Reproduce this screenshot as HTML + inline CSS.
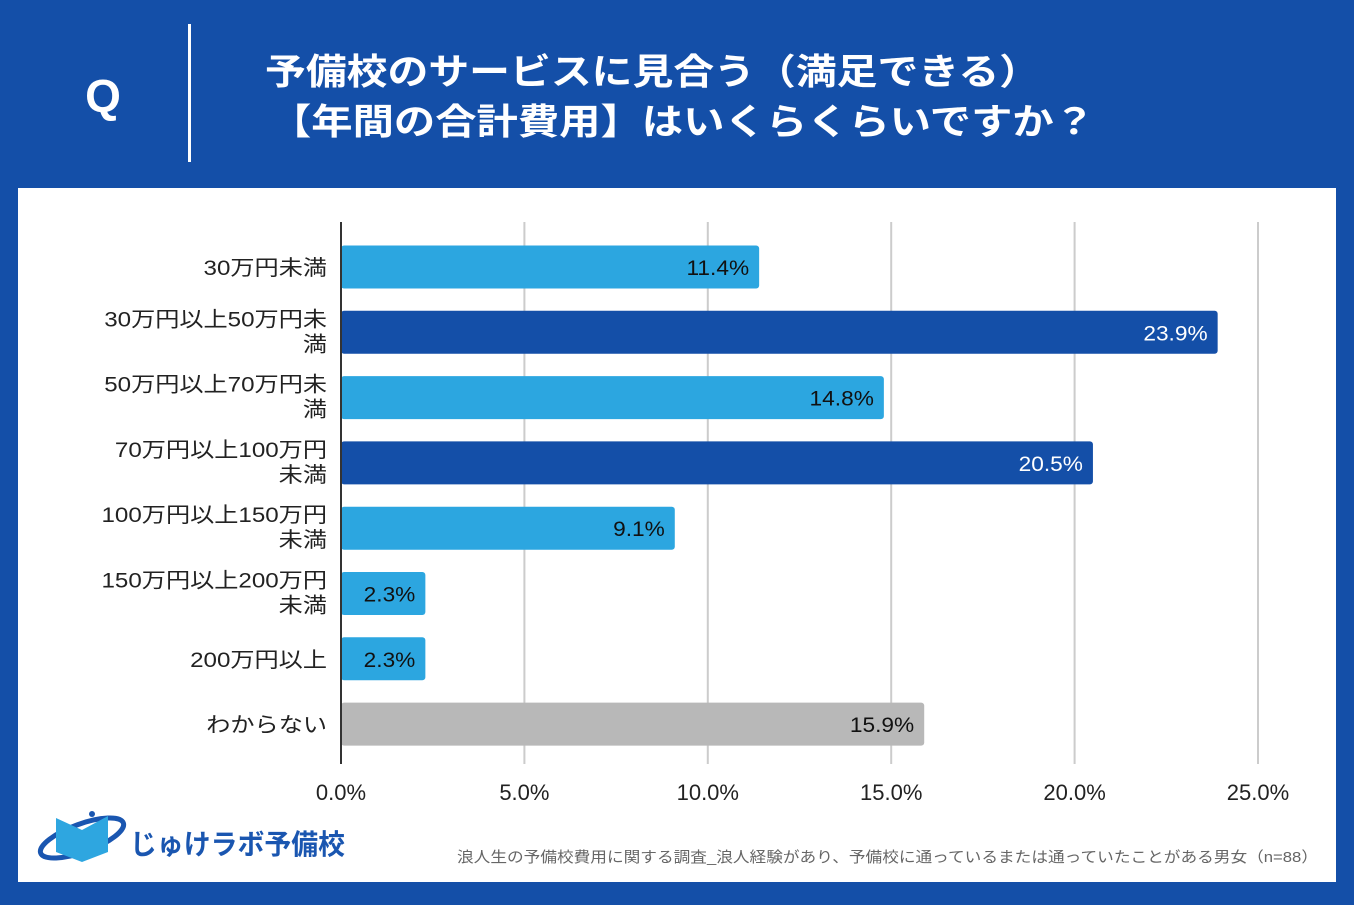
<!DOCTYPE html>
<html><head><meta charset="utf-8"><style>
body{margin:0;width:1354px;height:905px;background:#144fa8;overflow:hidden;font-family:"Liberation Sans","Noto Sans CJK JP",sans-serif;}
</style></head><body>
<svg width="1354" height="905" xmlns="http://www.w3.org/2000/svg" style="position:absolute;left:0;top:0" font-family="Liberation Sans, Noto Sans CJK JP, sans-serif">
<rect width="1354" height="905" fill="#144fa8"/>
<text x="103" y="112" fill="#fff" font-size="46" font-weight="bold" text-anchor="middle">Q</text>
<rect x="188" y="24" width="3" height="138" fill="#fff"/>
<text x="265" y="84" fill="#fff" font-size="36" font-weight="bold" textLength="775" lengthAdjust="spacingAndGlyphs">予備校のサービスに見合う（満足できる）</text>
<text x="270" y="134" fill="#fff" font-size="36" font-weight="bold" textLength="825" lengthAdjust="spacingAndGlyphs">【年間の合計費用】はいくらくらいですか？</text>
<rect x="18" y="188" width="1318" height="694" fill="#fff"/>
<g id="chart"></g>
<g>
<ellipse cx="82" cy="838" rx="44" ry="14" fill="none" stroke="#1a56b0" stroke-width="5" transform="rotate(-20 82 838)"/>
<path d="M56 818 L82 830 L108 816 L108 852 L82 862 L56 852Z" fill="#2ea6e0"/>
<circle cx="92" cy="814" r="3" fill="#1a56b0"/>
<text x="130" y="854" fill="#1a56b0" font-size="28" font-weight="bold" textLength="215" lengthAdjust="spacingAndGlyphs">じゅけラボ予備校</text>
</g>
<text x="457" y="862" fill="#666" font-size="15" textLength="861" lengthAdjust="spacingAndGlyphs">浪人生の予備校費用に関する調査_浪人経験があり、予備校に通っているまたは通っていたことがある男女（n=88）</text>
</svg>
<script>
const categories=[["30万円未満"],["30万円以上50万円未","満"],["50万円以上70万円未","満"],["70万円以上100万円","未満"],["100万円以上150万円","未満"],["150万円以上200万円","未満"],["200万円以上"],["わからない"]];
const values=[11.4,23.9,14.8,20.5,9.1,2.3,2.3,15.9];
const colors=["#2ca6e0","#144fa8","#2ca6e0","#144fa8","#2ca6e0","#2ca6e0","#2ca6e0","#b8b8b8"];
const ticks=[0,5,10,15,20,25];
const NS="http://www.w3.org/2000/svg";
const g=document.getElementById('chart');
const x=v=>341+v*36.68;
const yc=i=>267+i*65.3;
function el(t,a,txt){const e=document.createElementNS(NS,t);for(const k in a)e.setAttribute(k,a[k]);if(txt!==undefined)e.textContent=txt;g.appendChild(e);return e;}
function widen(e,f){const w=e.getComputedTextLength();e.setAttribute('textLength',w*f);e.setAttribute('lengthAdjust','spacingAndGlyphs');}
ticks.forEach(t=>{
 if(t>0){const l=el('line',{x1:x(t),x2:x(t),y1:222,y2:764,stroke:'#ccc','stroke-width':2});
 
 }
 const tx=el('text',{x:x(t),y:800,'font-size':22,fill:'#222','text-anchor':'middle'},t.toFixed(1)+'%');
 
 
});
values.forEach((v,i)=>{
 const r=el('rect',{x:341,y:yc(i)-21.5,width:x(v)-341,height:43,rx:3,fill:colors[i]});
 
 
 const dark=colors[i]==="#144fa8";
 const lb=el('text',{x:x(v)-10,y:yc(i)+8,'font-size':21,fill:dark?'#fff':'#111','text-anchor':'end'},v.toFixed(1)+'%');
 
 
 widen(lb,1.08);
 const c=categories[i];
 c.forEach((s,j)=>{
  const cy=c.length===1?yc(i)+8:yc(i)-6+j*25;
  const t=el('text',{x:327,y:cy,'font-size':21,fill:'#222','text-anchor':'end'},s);
  
  
  widen(t,1.15);
 });
});
const ax=el('line',{x1:341,x2:341,y1:222,y2:764,stroke:'#333','stroke-width':2});


</script>
</body></html>
